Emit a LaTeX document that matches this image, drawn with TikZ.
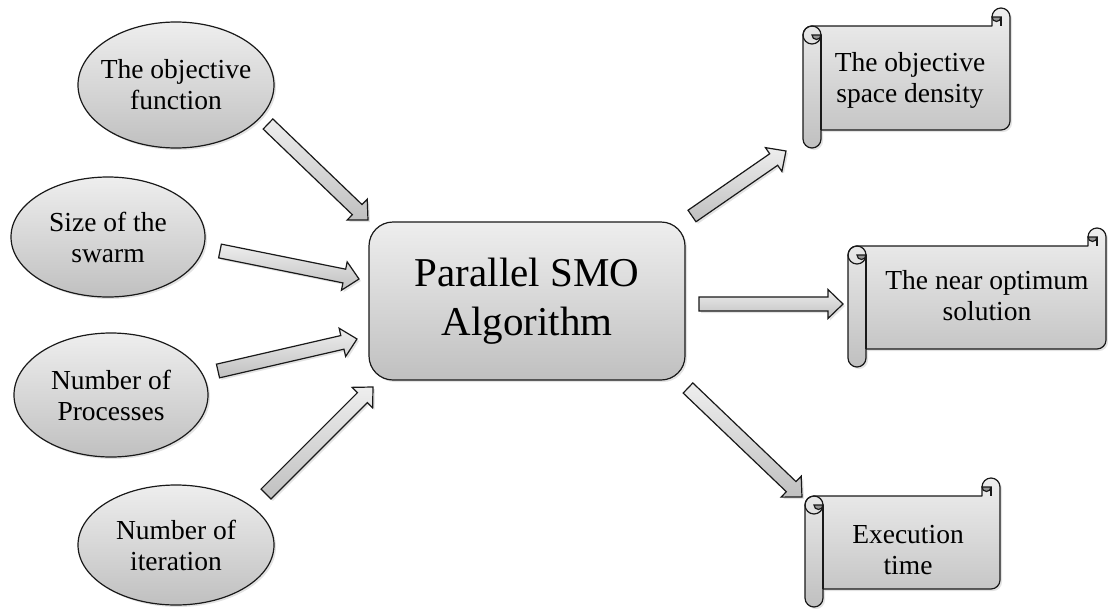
\documentclass[tikz,border=0pt]{standalone}
\usepackage{fontspec}
\setmainfont{Liberation Serif}
\usetikzlibrary{shapes.geometric,calc,shadows}

\definecolor{shadetop}{RGB}{238,238,238}
\definecolor{shadebot}{RGB}{192,192,192}
\definecolor{curlgray}{RGB}{150,150,150}
\definecolor{edgegray}{RGB}{25,25,25}

\tikzset{
  shaded/.style={draw=edgegray, line width=1.2pt, top color=shadetop, bottom color=shadebot,
    drop shadow={opacity=0.22, shadow xshift=2pt, shadow yshift=-2pt}},
  bubble/.style={shaded, ellipse, inner sep=0pt},
  bubbletext/.style={font=\fontsize{27.5}{31}\selectfont, align=center, inner sep=0pt},
  mainbox/.style={shaded, rounded corners=24pt, minimum width=316pt, minimum height=158pt,
    font=\fontsize{41}{49}\selectfont, align=center},
  arrowbody/.style={shaded, line join=miter},
  scrollbody/.style={shaded, line join=round},
  scrollline/.style={draw=edgegray, line width=1.2pt},
  curl/.style={scrollline, fill=curlgray},
}

% block arrow from #1 (tail) to #2 (tip)
\newcommand\blockarrow[2]{%
  \coordinate (ba-h) at ($(#2)!15pt!(#1)$);
  \path[arrowbody] ($(#1)!7pt!90:(#2)$) -- ($(ba-h)!7pt!-90:(#1)$)
    -- ($(ba-h)!14.5pt!-90:(#1)$) -- (#2) -- ($(ba-h)!14.5pt!90:(#1)$)
    -- ($(ba-h)!7pt!90:(#1)$) -- ($(#1)!7pt!-90:(#2)$) -- cycle;
}

% horizontal scroll: left, top, right, bottom
\newcommand\scrollframe[4]{%
  \path[scrollbody] (#1,#2+27) arc (180:270:9) -- (#3-18,#2+18) -- (#3-18,#2+9)
    arc (180:360:9) -- (#3,#4-27) arc (0:90:9) -- (#1+18,#4-18) -- (#1+18,#4-9)
    arc (0:180:9) -- cycle;
  \draw[scrollline] (#1+9,#2+27) circle (9);
  \draw[scrollline] (#1+18,#2+27) -- (#1+18,#4-18);
  \path[curl] (#1+9,#2+27) arc (180:0:4.5) -- cycle;
  \path[curl] (#3-9,#2+9) arc (0:180:4.5) -- cycle;
  \draw[scrollline] (#3-9,#2+9) -- (#3-9,#2+18);
}

\begin{document}
\begin{tikzpicture}[x=1pt, y=-1pt]
\useasboundingbox (0,0) rectangle (1108,608);

% inputs
\node[bubble, minimum width=196pt, minimum height=126pt] (e1) at (176,85) {};
\node[bubbletext] (t1) at (e1) {The objective\\function};
\node[bubble, minimum width=194pt, minimum height=120pt] (e2) at (108,237) {};
\node[bubbletext] (t2) at (e2) {Size of the\\swarm};
\node[bubble, minimum width=194pt, minimum height=124pt] (e3) at (111,395) {};
\node[bubbletext] (t3) at (e3) {Number of\\Processes};
\node[bubble, minimum width=196pt, minimum height=120pt] (e4) at (176,545) {};
\node[bubbletext] (t4) at (e4) {Number of\\iteration};

% algorithm
\node[mainbox] (smo) at (527,301) {Parallel SMO\\Algorithm};

% outputs
\scrollframe{803}{8}{1010}{148}
\node[bubbletext] (o1) at (910,80) {The objective\\space density};
\scrollframe{848}{228}{1106}{367}
\node[bubbletext] (o2) at (987,296) {The near optimum\\solution};
\scrollframe{805}{478}{1000}{607}
\node[bubbletext] (o3) at (908,550) {Execution\\time};

% arrow ends
\coordinate (a1s) at (268,124); \coordinate (a1e) at (368,220);
\coordinate (a2s) at (220,251); \coordinate (a2e) at (359,279);
\coordinate (a3s) at (218,371); \coordinate (a3e) at (357,339);
\coordinate (a4s) at (266,494); \coordinate (a4e) at (373,387);
\coordinate (b1s) at (692,216); \coordinate (b1e) at (786,151);
\coordinate (b2s) at (699,304); \coordinate (b2e) at (843,304);
\coordinate (b3s) at (688,388); \coordinate (b3e) at (802,497);

\blockarrow{a1s}{a1e}
\blockarrow{a2s}{a2e}
\blockarrow{a3s}{a3e}
\blockarrow{a4s}{a4e}
\blockarrow{b1s}{b1e}
\blockarrow{b2s}{b2e}
\blockarrow{b3s}{b3e}
\end{tikzpicture}
\end{document}
